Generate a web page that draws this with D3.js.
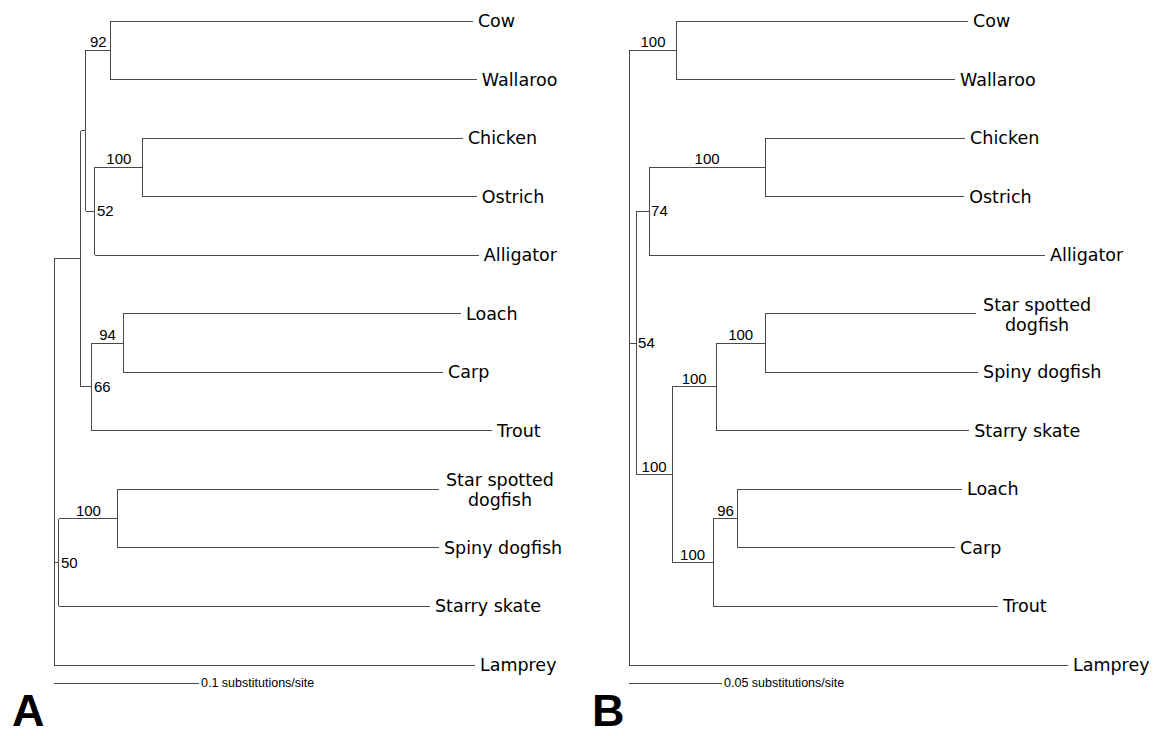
<!DOCTYPE html>
<html>
<head>
<meta charset="utf-8">
<script src="https://cdn.jsdelivr.net/npm/d3@7"></script>
<style>
body { margin: 0; background: #fff; }
</style>
</head>
<body>
<div id="chart-area"></div>
<script>
const WIDTH = 1156
const HEIGHT = 736

// each row: [node, parent, branch length (subst/site), bootstrap support]
const treeA = [
    ["rootA", null, 0, null],
    ["a1", "rootA", 0.0186, null],
    ["a2", "a1", 0.0034, null],
    ["a3", "a2", 0.0172, 92],
    ["Cow", "a3", 0.2497, null],
    ["Wallaroo", "a3", 0.2524, null],
    ["a4", "a2", 0.0062, 52],
    ["a5", "a4", 0.0331, 100],
    ["Chicken", "a5", 0.2207, null],
    ["Ostrich", "a5", 0.2303, null],
    ["Alligator", "a4", 0.2648, null],
    ["a6", "a1", 0.0076, 66],
    ["a7", "a6", 0.0214, 94],
    ["Loach", "a7", 0.2331, null],
    ["Carp", "a7", 0.2207, null],
    ["Trout", "a6", 0.2759, null],
    ["a8", "rootA", 0.0034, 50],
    ["a9", "a8", 0.0407, 100],
    ["Star spotted dogfish", "a9", 0.2214, null],
    ["Spiny dogfish", "a9", 0.2214, null],
    ["Starry skate", "a8", 0.2559, null],
    ["Lamprey", "rootA", 0.2903, null]
]

const treeB = [
    ["rootB", null, 0, null],
    ["b1", "rootB", 0.0258, 100],
    ["Cow", "b1", 0.1565, null],
    ["Wallaroo", "b1", 0.1495, null],
    ["b2", "rootB", 0.0038, 54],
    ["b3", "b2", 0.0070, 74],
    ["b4", "b3", 0.0624, 100],
    ["Chicken", "b4", 0.1075, null],
    ["Ostrich", "b4", 0.1070, null],
    ["Alligator", "b3", 0.2129, null],
    ["b5", "b2", 0.0194, 100],
    ["b6", "b5", 0.0237, 100],
    ["b7", "b6", 0.0263, 100],
    ["Star spotted dogfish", "b7", 0.1134, null],
    ["Spiny dogfish", "b7", 0.1145, null],
    ["Starry skate", "b6", 0.1360, null],
    ["b8", "b5", 0.0220, 100],
    ["b9", "b8", 0.0134, 96],
    ["Loach", "b9", 0.1204, null],
    ["Carp", "b9", 0.1167, null],
    ["Trout", "b8", 0.1532, null],
    ["Lamprey", "rootB", 0.2360, null]
]

const scaleBarA = [0.1, "0.1 substitutions/site"]
const scaleBarB = [0.05, "0.05 substitutions/site"]
const panelLabels = ["A", "B"]

const svg = d3.select("#chart-area").append("svg")
    .attr("width", WIDTH)
    .attr("height", HEIGHT)

function drawTree(rows, bar, letter, cfg) {
    const root = d3.stratify()
        .id(d => d[0])
        .parentId(d => d[1])(rows)

    // cumulative distance from the root
    root.eachBefore(n => { n.dist = n.parent ? n.parent.dist + n.data[2] : 0 })

    const x = d3.scaleLinear()
        .domain([0, bar[0]])
        .range([cfg.x0, cfg.x0 + cfg.barPx])

    const y = d3.scalePoint()
        .domain(root.leaves().map(d => d.id))
        .range([21, 665])

    root.eachAfter(n => {
        n.px = x(n.dist)
        n.py = n.children
            ? (n.children[0].py + n.children[n.children.length - 1].py) / 2
            : y(n.id)
    })

    const g = svg.append("g")
        .attr("stroke", "#4a4a4a")
        .attr("stroke-width", 1)
        .attr("shape-rendering", "crispEdges")

    // horizontal branches
    g.selectAll("line.h")
        .data(root.descendants().filter(d => d.parent))
        .join("line")
        .attr("class", "h")
        .attr("x1", d => d.parent.px)
        .attr("x2", d => d.px)
        .attr("y1", d => d.py)
        .attr("y2", d => d.py)

    // vertical connectors
    g.selectAll("line.v")
        .data(root.descendants().filter(d => d.children))
        .join("line")
        .attr("class", "v")
        .attr("x1", d => d.px)
        .attr("x2", d => d.px)
        .attr("y1", d => d.children[0].py)
        .attr("y2", d => d.children[d.children.length - 1].py)

    // taxon names
    root.leaves().forEach(d => {
        const words = d.id.split(" ")
        const t = svg.append("text")
            .attr("font-family", "DejaVu Sans, sans-serif")
            .attr("font-size", "17.5px")
            .attr("fill", "#000")
        if (words.length > 2) {
            const first = words.slice(0, 2).join(" ")
            const s1 = t.append("tspan")
                .attr("x", d.px + 7)
                .attr("y", d.py - 3)
                .text(first)
            const w = s1.node().getComputedTextLength()
            t.append("tspan")
                .attr("x", d.px + 7 + w / 2)
                .attr("y", d.py + 17)
                .attr("text-anchor", "middle")
                .text(words.slice(2).join(" "))
        } else {
            t.attr("x", d.px + 5)
                .attr("y", d.py + 6)
                .text(d.id)
        }
    })

    // bootstrap values
    root.descendants().filter(d => d.parent && d.data[3] != null).forEach(d => {
        const len = d.px - d.parent.px
        const t = svg.append("text")
            .attr("font-family", "Liberation Sans, Arial, sans-serif")
            .attr("font-size", "15px")
            .attr("fill", "#000")
            .text(d.data[3])
        if (len >= 20) {
            t.attr("x", (d.px + d.parent.px) / 2)
                .attr("y", d.py - 3)
                .attr("text-anchor", "middle")
        } else {
            t.attr("x", d.px + 2)
                .attr("y", d.py + 5)
        }
    })

    // scale bar
    svg.append("line")
        .attr("x1", x(0))
        .attr("x2", x(bar[0]))
        .attr("y1", 683)
        .attr("y2", 683)
        .attr("stroke", "#4a4a4a")
        .attr("shape-rendering", "crispEdges")

    svg.append("text")
        .attr("x", x(bar[0]) + 2)
        .attr("y", 687)
        .attr("font-family", "Liberation Sans, Arial, sans-serif")
        .attr("font-size", "12.5px")
        .attr("fill", "#000")
        .text(bar[1])

    svg.append("text")
        .attr("x", cfg.letterX)
        .attr("y", 726)
        .attr("font-family", "Liberation Sans, Arial, sans-serif")
        .attr("font-size", "45px")
        .attr("font-weight", "bold")
        .attr("fill", "#000")
        .text(letter)
}

drawTree(treeA, scaleBarA, panelLabels[0], { x0: 54, barPx: 145, letterX: 12 })
drawTree(treeB, scaleBarB, panelLabels[1], { x0: 629, barPx: 93, letterX: 592 })
</script>
</body>
</html>
